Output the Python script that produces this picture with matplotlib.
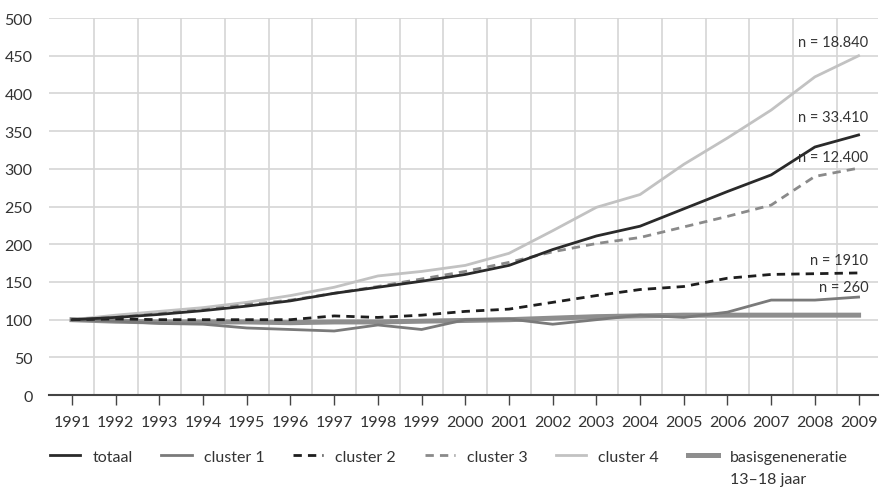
import matplotlib.pyplot as plt

plt.rcParams['font.family'] = ['Lato', 'DejaVu Sans']

jaren = list(range(1991, 2010))
totaal = [100, 103, 107, 112, 118, 125, 135, 143, 151, 160, 172, 193, 211, 224, 247, 270, 292, 329, 345]
cluster1 = [100, 98, 95, 94, 89, 87, 85, 93, 87, 100, 101, 94, 100, 106, 103, 110, 126, 126, 130]
cluster2 = [100, 101, 100, 100, 100, 100, 105, 103, 106, 111, 114, 123, 132, 140, 144, 155, 160, 161, 162]
cluster3 = [100, 103, 108, 113, 120, 126, 135, 144, 154, 164, 176, 190, 201, 209, 223, 237, 252, 290, 301]
cluster4 = [100, 106, 111, 116, 123, 132, 143, 158, 164, 172, 188, 218, 249, 266, 306, 341, 378, 422, 450]
basis = [100, 98, 97, 97, 97, 96, 97, 97, 98, 99, 100, 102, 104, 105, 106, 106, 106, 106, 106]

n_labels = ['n = 18.840', 'n = 33.410', 'n = 12.400', 'n = 1910', 'n = 260']
n_y = [468, 369, 316, 179, 144]

W, H = 880, 489
fig = plt.figure(figsize=(W / 100, H / 100), dpi=100)
ax = fig.add_axes([0.056, 0.19, 0.942, 0.771])

tekst = '#333333'
fs = 11.5

ax.plot(jaren, basis, color='#8e8e8e', lw=3.6, label='basisgeneneratie', zorder=3)
ax.plot(jaren, cluster4, color='#c2c2c2', lw=2, label='cluster 4', zorder=4)
ax.plot(jaren, cluster3, color='#8a8a8a', lw=2, ls=(0, (3, 2.2)), label='cluster 3', zorder=5)
ax.plot(jaren, cluster2, color='#1e1e1e', lw=2, ls=(0, (3, 2.2)), label='cluster 2', zorder=5)
ax.plot(jaren, cluster1, color='#7a7a7a', lw=2, label='cluster 1', zorder=4)
ax.plot(jaren, totaal, color='#2a2a2a', lw=2, label='totaal', zorder=6)

for lab, y in zip(n_labels, n_y):
    ax.text(2009.22, y, lab, ha='right', va='center', fontsize=10.5, color=tekst)

ax.set_xlim(1990.48, 2009.45)
ax.set_ylim(0, 500)
ax.set_xticks(jaren)
ax.set_xticks([j + 0.5 for j in jaren[:-1]], minor=True)
ax.set_yticks(range(0, 501, 50))
ax.grid(True, which='minor', axis='x', color='#d6d6d6', lw=1.2)
ax.grid(True, which='major', axis='y', color='#d6d6d6', lw=1.2)
ax.set_axisbelow(True)
for s in ['top', 'right', 'left']:
    ax.spines[s].set_visible(False)
ax.spines['bottom'].set_color('#444444')
ax.spines['bottom'].set_linewidth(1.5)
ax.tick_params(axis='x', which='major', length=7, width=1, color='#444444',
               labelsize=fs, labelcolor=tekst, pad=7)
ax.tick_params(axis='x', which='minor', length=0)
ax.tick_params(axis='y', length=0, labelsize=fs, labelcolor=tekst, pad=12)

h, l = ax.get_legend_handles_labels()
volgorde = [5, 4, 3, 2, 1, 0]
handles = [h[i] for i in volgorde]
labels = [l[i] for i in volgorde]


def maak_legenda(spacing):
    return fig.legend(handles, labels, loc='center left', bbox_to_anchor=(0.057, 0.064),
                      ncol=6, frameon=False, fontsize=fs, handlelength=1.9,
                      handletextpad=0.75, columnspacing=spacing, labelcolor=tekst,
                      borderaxespad=0, borderpad=0)


# legenda van x = 50 tot x = 848 px laten lopen, zoals in het origineel
spacing = 1.6
leg = maak_legenda(spacing)
fig.canvas.draw()
ext = leg.get_window_extent()
spacing += ((848 - 50) - ext.width) / 5 / (fs * 100 / 72)
leg.remove()
leg = maak_legenda(spacing)
fig.canvas.draw()
x0 = leg.get_window_extent().x0
leg.set_bbox_to_anchor((0.057 + (50 - x0) / W, 0.064), transform=fig.transFigure)
fig.canvas.draw()

bb = leg.get_texts()[-1].get_window_extent()
fig.text(bb.x0 / W, ((bb.y0 + bb.y1) / 2 - 22) / H, '13–18 jaar',
         ha='left', va='center', fontsize=fs, color=tekst)

fig.savefig('out.png', dpi=100)
